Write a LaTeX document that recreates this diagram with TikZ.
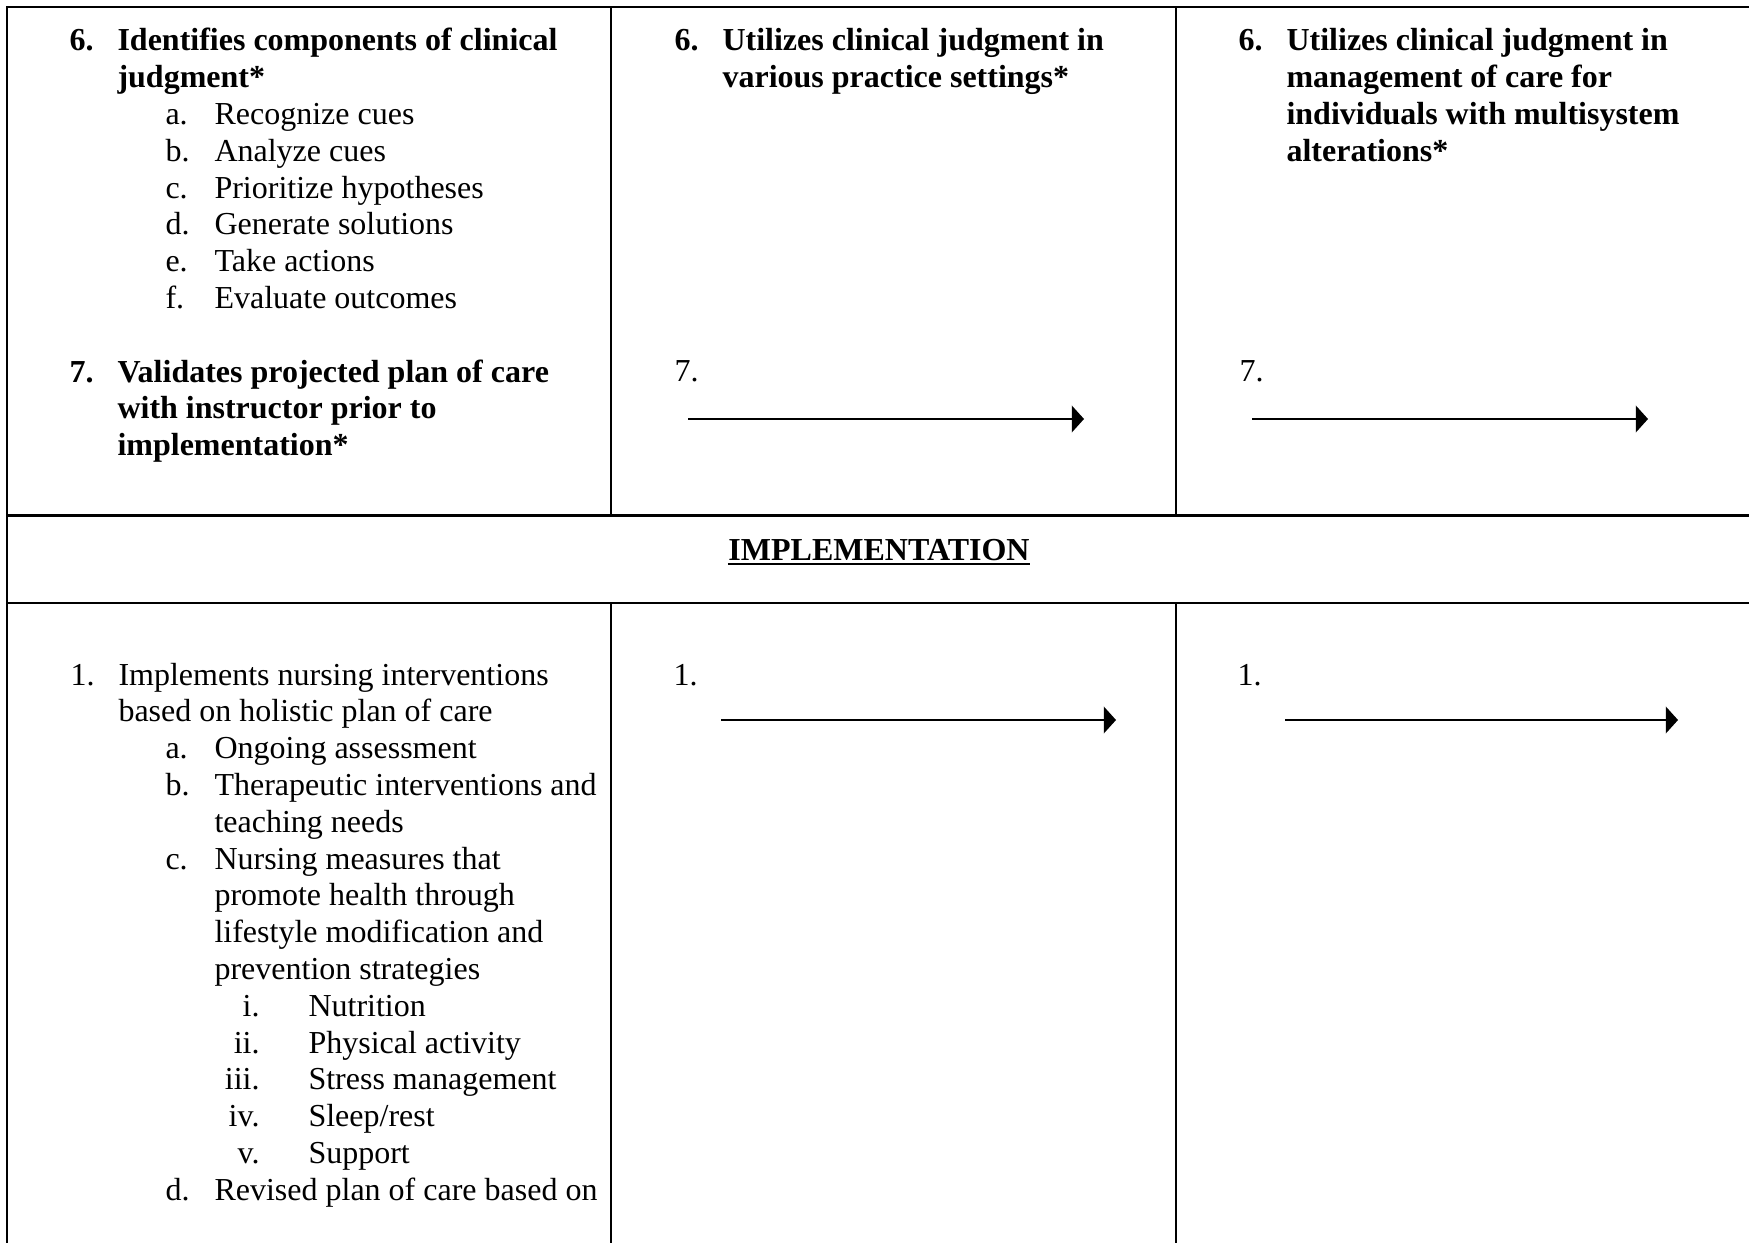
\documentclass[tikz,border=0pt]{standalone}
\usepackage{fontspec}
\setmainfont{Liberation Serif}
\usetikzlibrary{arrows.meta}

% one drawing unit = one pixel of the page grid
\newlength\cellpx
\setlength\cellpx{0.375pt}

% numbered line: label starts at #1, text starts at #3
\newcommand\itemline[4]{\hbox{\hskip#1\cellpx\rlap{#2}\hskip\dimexpr#3\cellpx-#1\cellpx\relax#4}}
% roman-numbered line: label ends at #1, text starts at #3
\newcommand\romline[4]{\hbox{\hbox to #1\cellpx{\hss#2}\hskip\dimexpr#3\cellpx-#1\cellpx\relax#4}}
% continuation line starting at #1
\newcommand\contline[2]{\hbox{\hskip#1\cellpx#2}}
\newcommand\cellsetup{\baselineskip=13.8pt\lineskiplimit=-\maxdimen\lineskip=0pt}

\tikzset{
  rule/.style={line width=1.05pt, line cap=rect},
  flow/.style={line width=0.8pt, -{Triangle[length=4.6pt,width=10pt]}},
  cell/.style={anchor=base west, inner sep=0pt, font=\fontsize{12}{13.8}\selectfont},
  heading/.style={anchor=base, inner sep=0pt, font=\fontsize{12}{13.8}\selectfont\bfseries},
}

\begin{document}
\begin{tikzpicture}[x=0.375pt, y=-0.375pt]
\useasboundingbox (0,0) rectangle (1749,1243);

% table rules
\draw[rule] (7,7) -- (1749,7);
\draw[rule] (7,515.5) -- (1749,515.5);
\draw[rule] (7,603) -- (1749,603);
\draw[rule] (7,7) -- (7,1243);
\draw[rule] (611,7) -- (611,515.5);
\draw[rule] (1176,7) -- (1176,515.5);
\draw[rule] (611,603) -- (611,1243);
\draw[rule] (1176,603) -- (1176,1243);

% upper row, first column
\node[cell] (c11) at (7,51) {\vtop{\cellsetup
  \itemline{62}{\bfseries 6.}{110}{\bfseries Identifies components of clinical}
  \contline{110}{\bfseries judgment*}
  \itemline{158}{a.}{207}{Recognize cues}
  \itemline{158}{b.}{207}{Analyze cues}
  \itemline{158}{c.}{207}{Prioritize hypotheses}
  \itemline{158}{d.}{207}{Generate solutions}
  \itemline{158}{e.}{207}{Take actions}
  \itemline{158}{f.}{207}{Evaluate outcomes}
  \hbox{}
  \itemline{62}{\bfseries 7.}{110}{\bfseries Validates projected plan of care}
  \contline{110}{\bfseries with instructor prior to}
  \contline{110}{\bfseries implementation*}}};

% upper row, second column
\node[cell] (c12) at (611,51) {\vtop{\cellsetup
  \itemline{63}{\bfseries 6.}{111}{\bfseries Utilizes clinical judgment in}
  \contline{111}{\bfseries various practice settings*}}};
\node[cell] (c12n) at (674,382) {7.};

% upper row, third column
\node[cell] (c13) at (1176,51) {\vtop{\cellsetup
  \itemline{62}{\bfseries 6.}{110}{\bfseries Utilizes clinical judgment in}
  \contline{110}{\bfseries management of care for}
  \contline{110}{\bfseries individuals with multisystem}
  \contline{110}{\bfseries alterations*}}};
\node[cell] (c13n) at (1239,382) {7.};

% continuation arrows, upper row
\coordinate (u2s) at (688,419);
\coordinate (u2e) at (1084,419);
\coordinate (u3s) at (1252,419);
\coordinate (u3e) at (1648,419);
\draw[flow] (u2s) -- (u2e);
\draw[flow] (u3s) -- (u3e);

% section heading
\node[heading] (impl) at (879,560) {IMPLEMENTATION};
\draw[line width=0.9pt] ([yshift=-1.5pt]impl.base west) -- ([yshift=-1.5pt]impl.base east);

% lower row, first column
\node[cell] (c31) at (7,685) {\vtop{\cellsetup
  \itemline{63}{1.}{111}{Implements nursing interventions}
  \contline{111}{based on holistic plan of care}
  \itemline{158}{a.}{207}{Ongoing assessment}
  \itemline{158}{b.}{207}{Therapeutic interventions and}
  \contline{207}{teaching needs}
  \itemline{158}{c.}{207}{Nursing measures that}
  \contline{207}{promote health through}
  \contline{207}{lifestyle modification and}
  \contline{207}{prevention strategies}
  \romline{252}{i.}{301}{Nutrition}
  \romline{252}{ii.}{301}{Physical activity}
  \romline{252}{iii.}{301}{Stress management}
  \romline{252}{iv.}{301}{Sleep/rest}
  \romline{252}{v.}{301}{Support}
  \itemline{158}{d.}{207}{Revised plan of care based on}}};

% lower row, other columns
\node[cell] (c32n) at (673,685) {1.};
\node[cell] (c33n) at (1237,685) {1.};

% continuation arrows, lower row
\coordinate (l2s) at (721,720);
\coordinate (l2e) at (1116,720);
\coordinate (l3s) at (1285,720);
\coordinate (l3e) at (1678,720);
\draw[flow] (l2s) -- (l2e);
\draw[flow] (l3s) -- (l3e);
\end{tikzpicture}
\end{document}
